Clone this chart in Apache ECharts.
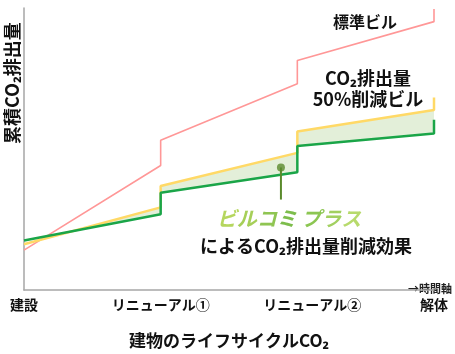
<!DOCTYPE html>
<html>
<head>
<meta charset="utf-8">
<script src="https://cdn.jsdelivr.net/npm/echarts@6/dist/echarts.min.js"></script>
<style>
  html, body { margin: 0; padding: 0; background: #fff; }
  #chart { width: 455px; height: 354px; }
</style>
</head>
<body>
<div id="chart"></div>
<script>
// stage positions on the time axis: 0 建設, 1 リニューアル①, 2 リニューアル②, 3 解体
const stageLabels = ['建設', 'リニューアル①', 'リニューアル②', '解体']
const stageLabelPos = [0, 1, 2.11, 3]

// cumulative CO2 (relative units) - steps at each renewal and at demolition
const standardBldg = [[0, 41], [1, 128], [1, 154], [2, 212], [2, 236], [3, 276], [3, 289]]
const halfBldg = [[0, 47], [1, 85], [1, 107], [2, 141], [2, 163], [3, 185], [3, 198]]
const bilcomiBldg = [[0, 51], [1, 78], [1, 100], [2, 121], [2, 148], [3, 161], [3, 175]]

// leader from the shaded area to the label
const leader = [[1.88, 126], [1.88, 93]]

const FONT = '"Noto Sans CJK JP", "Noto Sans", sans-serif'

// logo letters, light lime to green
const logoChars = ['ビ', 'ル', 'コ', 'ミ', ' ', 'プ', 'ラ', 'ス']
const logoColors = ['#b5d65e', '#a6cf58', '#8fc552', '#7dbd4c', '#7dbd4c', '#8cc652', '#a2d060', '#b7da6c']

const chart = echarts.init(document.getElementById('chart'))

// shaded area between the 50% line and the BILCOMI line (only where 50% is higher)
const renderGap = (params, api) => {
  const Y = halfBldg.map(p => api.coord(p))
  const G = bilcomiBldg.map(p => api.coord(p))
  // crossing on the first segment
  const d0 = Y[0][1] - G[0][1]
  const d1 = Y[1][1] - G[1][1]
  const t = d0 / (d0 - d1)
  const ix = Y[0][0] + t * (Y[1][0] - Y[0][0])
  const iy = Y[0][1] + t * (Y[1][1] - Y[0][1])
  const pts = [[ix, iy]].concat(Y.slice(1)).concat(G.slice(1).reverse())
  return {
    type: 'polygon',
    shape: { points: pts },
    style: { fill: '#e3efd9' }
  }
}

const logoRich = {}
logoColors.forEach((c, i) => {
  logoRich['c' + i] = { fill: c, fontSize: 20, fontStyle: 'italic', fontFamily: FONT, fontWeight: 'bold' }
})
const logoText = logoChars.map((ch, i) => '{c' + i + '|' + ch + '}').join('')

const option = {
  animation: false,
  grid: { left: 24, right: 21, top: 8, bottom: 56 },
  xAxis: {
    type: 'value',
    min: 0,
    max: 3,
    name: '建物のライフサイクルCO₂',
    nameLocation: 'middle',
    nameGap: 42,
    nameTextStyle: { fontFamily: FONT, fontWeight: 'bold', fontSize: 17, color: '#111' },
    axisLine: { lineStyle: { color: '#a6a6a6', width: 1.5 } },
    axisTick: { show: false },
    splitLine: { show: false },
    axisLabel: {
      customValues: stageLabelPos,
      formatter: v => stageLabels[stageLabelPos.indexOf(v)],
      margin: 8,
      fontFamily: FONT,
      fontWeight: 'bold',
      fontSize: 14,
      color: '#111'
    }
  },
  yAxis: {
    type: 'value',
    min: 0,
    max: 290,
    axisLine: { show: true, lineStyle: { color: '#a6a6a6', width: 1.5 } },
    axisTick: { show: false },
    axisLabel: { show: false },
    splitLine: { show: false }
  },
  graphic: [
    {
      type: 'text', x: 21, y: 144, rotation: Math.PI / 2,
      style: { text: '累積CO₂排出量', font: 'bold 18px ' + FONT, fill: '#111', textAlign: 'left', textVerticalAlign: 'bottom' }
    },
    {
      type: 'text', x: 452, y: 289,
      style: { text: '→時間軸', font: 'bold 11px ' + FONT, fill: '#222', textAlign: 'right', textVerticalAlign: 'middle' }
    },
    {
      type: 'text', x: 365, y: 22,
      style: { text: '標準ビル', font: 'bold 16px ' + FONT, fill: '#111', textAlign: 'center', textVerticalAlign: 'middle' }
    },
    {
      type: 'text', x: 368, y: 89,
      style: {
        text: 'CO₂排出量\n50%削減ビル', font: 'bold 18px ' + FONT, fill: '#111',
        textAlign: 'center', textVerticalAlign: 'middle', lineHeight: 21,
        stroke: '#fff', lineWidth: 3
      }
    },
    {
      type: 'text', x: 289, y: 218,
      style: { text: logoText, rich: logoRich, textAlign: 'center', textVerticalAlign: 'middle' }
    },
    {
      type: 'text', x: 306, y: 246,
      style: { text: 'によるCO₂排出量削減効果', font: 'bold 18px ' + FONT, fill: '#111', textAlign: 'center', textVerticalAlign: 'middle' }
    }
  ],
  series: [
    {
      name: 'gap',
      type: 'custom',
      renderItem: renderGap,
      data: [0],
      silent: true,
      z: 1
    },
    {
      name: '標準ビル',
      type: 'line',
      data: standardBldg,
      symbol: 'none',
      lineStyle: { color: '#ff9797', width: 1.6 },
      z: 3
    },
    {
      name: 'CO₂排出量50%削減ビル',
      type: 'line',
      data: halfBldg,
      symbol: 'none',
      lineStyle: { color: '#ffd966', width: 2.5 },
      z: 3
    },
    {
      name: 'ビルコミ プラス',
      type: 'line',
      data: bilcomiBldg,
      symbol: 'none',
      lineStyle: { color: '#1aa548', width: 2.5 },
      z: 4
    },
    {
      name: 'leader',
      type: 'line',
      data: leader,
      symbol: 'none',
      lineStyle: { color: '#5a8a2c', width: 2 },
      z: 5
    },
    {
      name: 'leaderDot',
      type: 'scatter',
      data: leader.slice(0, 1),
      symbol: 'circle',
      symbolSize: 8,
      itemStyle: { color: '#5a8a2c' },
      z: 6
    }
  ]
}

chart.setOption(option)
</script>
</body>
</html>
